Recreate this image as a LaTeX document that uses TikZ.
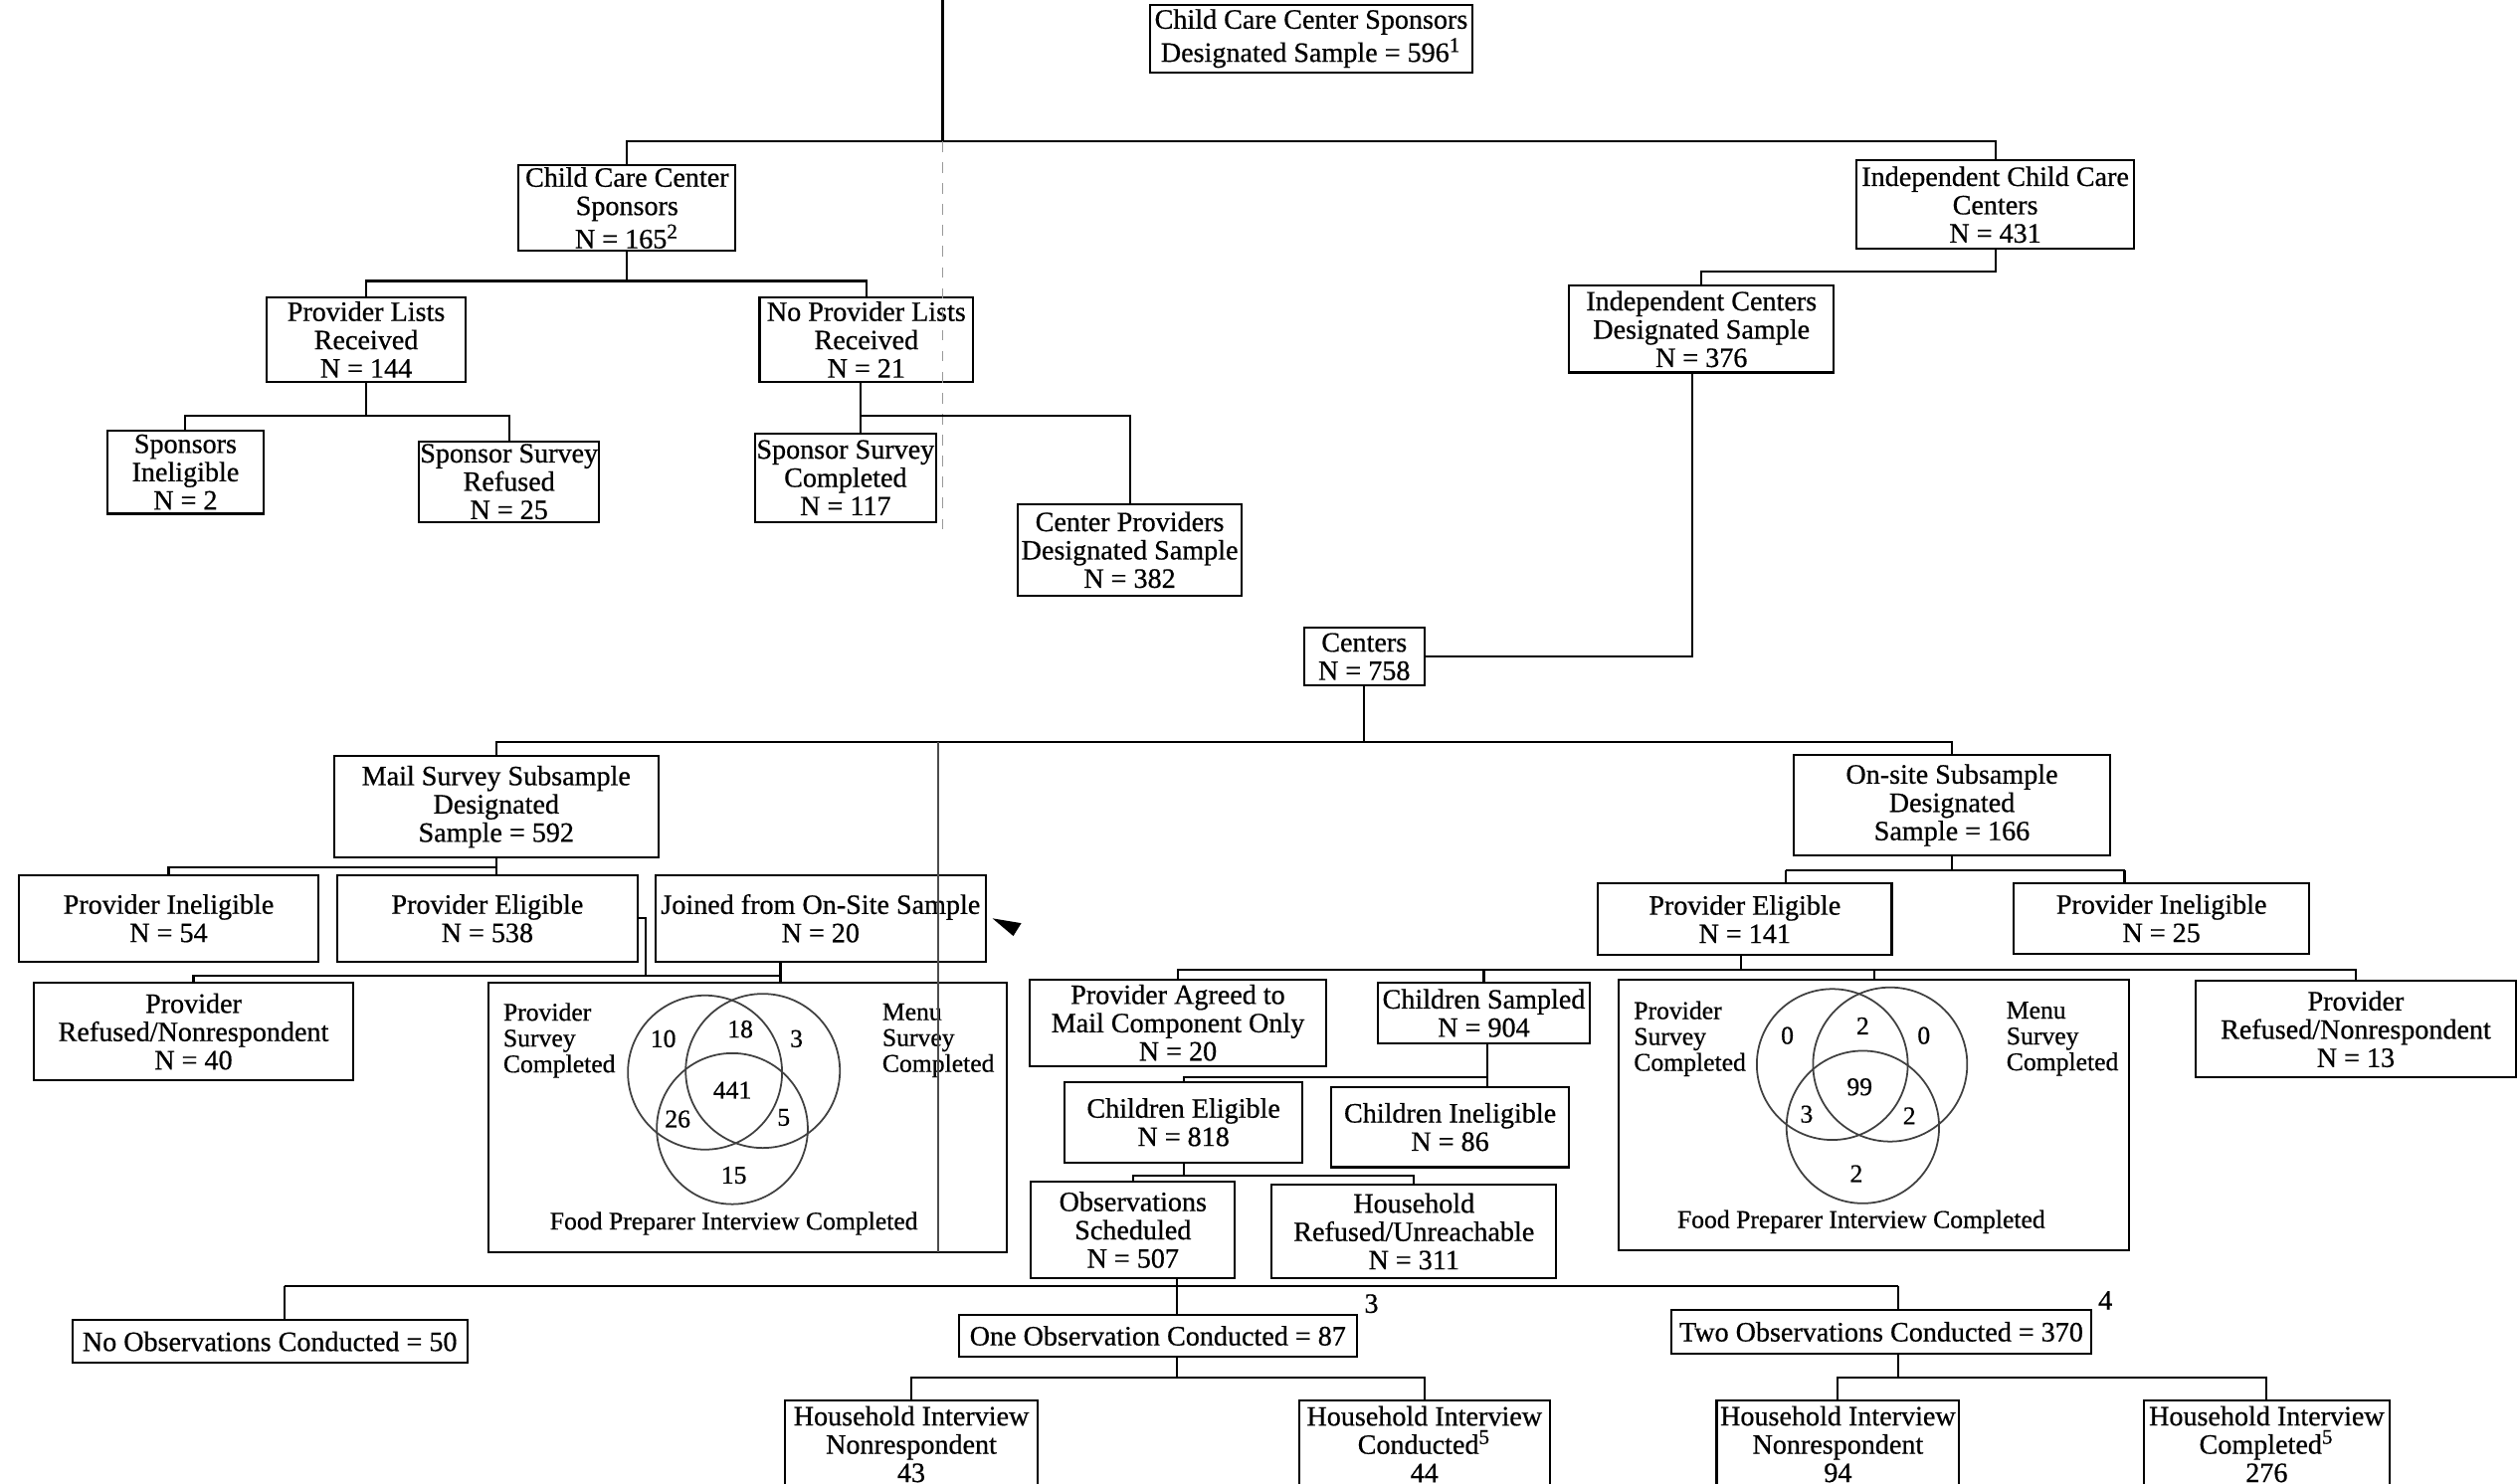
\documentclass[tikz,border=0pt]{standalone}
\usepackage{fontspec}
\setmainfont{Liberation Serif}[FakeBold=0.6]
\newcommand{\fsbox}{\fontsize{8}{8.1}\selectfont}
\newcommand{\fsvenn}{\fontsize{7.3}{7.4}\selectfont}
% box from (x1,y1) to (x2,y2) in reference-pixel units: name, text
\newcommand{\bx}[6]{%
  \pgfmathsetmacro{\bxcx}{(#1+#3)/2}%
  \pgfmathsetmacro{\bxcy}{(#2+#4)/2}%
  \pgfmathsetmacro{\bxw}{(#3-#1)*0.016142}%
  \pgfmathsetmacro{\bxh}{(#4-#2)*0.016142}%
  \node[box, minimum width=\bxw cm, minimum height=\bxh cm] (#5) at (\bxcx,\bxcy) {#6};}
\begin{document}
\begin{tikzpicture}[x=0.016142cm, y=-0.016142cm,
  box/.style={draw, line width=0.6pt, inner sep=0pt, align=center, font=\fsbox},
  conn/.style={line width=0.6pt},
  faint/.style={line width=0.4pt, black!40, dashed},
  vtext/.style={font=\fsvenn, align=left, anchor=west, inner sep=0pt},
  vnum/.style={font=\fsvenn, inner sep=0pt},
  circ/.style={line width=0.5pt, black!75}]
\useasboundingbox (0,0) rectangle (1568,924);

% ---------- boxes ----------
\bx{716}{3}{917}{45}{top}{Child Care Center Sponsors\\Designated Sample = 596\textsuperscript{1}}
\bx{323}{103}{458}{156}{ccs}{Child Care Center\\Sponsors\\N = 165\textsuperscript{2}}
\bx{1156}{100}{1329}{155}{icc}{Independent Child Care\\Centers\\N = 431}
\bx{166}{185}{290}{238}{pl}{Provider Lists\\Received\\N = 144}
\bx{473}{185}{606}{238}{npl}{No Provider Lists\\Received\\N = 21}
\bx{977}{178}{1142}{232}{ic376}{Independent Centers\\Designated Sample\\N = 376}
\bx{67}{268}{164}{320}{si}{Sponsors\\Ineligible\\N = 2}
\bx{261}{275}{373}{325}{sr}{Sponsor Survey\\Refused\\N = 25}
\bx{470}{270}{583}{325}{sc}{Sponsor Survey\\Completed\\N = 117}
\bx{634}{314}{773}{371}{cp}{Center Providers\\Designated Sample\\N = 382}
\bx{812}{391}{887}{427}{ctr}{Centers\\N = 758}
\bx{208}{471}{410}{534}{mail}{Mail Survey Subsample\\Designated\\Sample = 592}
\bx{1117}{470}{1314}{533}{onsite}{On-site Subsample\\Designated\\Sample = 166}
\bx{12}{545}{198}{599}{pi54}{Provider Ineligible\\N = 54}
\bx{210}{545}{397}{599}{pe538}{Provider Eligible\\N = 538}
\bx{408}{545}{614}{599}{join}{Joined from On-Site Sample\\N = 20}
\bx{995}{550}{1178}{595}{pe141}{Provider Eligible\\N = 141}
\bx{1254}{550}{1438}{594}{pi25}{Provider Ineligible\\N = 25}
\bx{21}{612}{220}{673}{prl}{Provider\\Refused/Nonrespondent\\N = 40}
\bx{304}{612}{627}{780}{vennL}{}
\bx{641}{610}{826}{664}{pa}{Provider Agreed to\\Mail Component Only\\N = 20}
\bx{858}{612}{990}{650}{cs}{Children Sampled\\N = 904}
\bx{1008}{610}{1326}{779}{vennR}{}
\bx{1367}{611}{1567}{671}{prr}{Provider\\Refused/Nonrespondent\\N = 13}
\bx{663}{674}{811}{724}{ce}{Children Eligible\\N = 818}
\bx{829}{677}{977}{727}{cin}{Children Ineligible\\N = 86}
\bx{642}{736}{769}{796}{os}{Observations\\Scheduled\\N = 507}
\bx{792}{738}{969}{796}{hr}{Household\\Refused/Unreachable\\N = 311}
\bx{45}{822}{291}{849}{no}{No Observations Conducted = 50}
\bx{597}{819}{845}{845}{one}{One Observation Conducted = 87}
\bx{1041}{816}{1302}{843}{two}{Two Observations Conducted = 370}
\bx{489}{872}{646}{927}{h43}{Household Interview\\Nonrespondent\\43}
\bx{809}{872}{965}{927}{h44}{Household Interview\\Conducted\textsuperscript{5}\\44}
\bx{1069}{872}{1220}{927}{h94}{Household Interview\\Nonrespondent\\94}
\bx{1335}{872}{1488}{927}{h276}{Household Interview\\Completed\textsuperscript{5}\\276}

\node[inner sep=0pt, font=\fsbox] (fn3) at (854,812) {3};
\node[inner sep=0pt, font=\fsbox] (fn4) at (1311,810) {4};

% ---------- Venn diagram, mail survey ----------
\draw[circ] (439,668) circle [radius=0.775cm];
\draw[circ] (475,667) circle [radius=0.775cm];
\draw[circ] (456,703) circle [radius=0.759cm];
\node[vtext] (lps) at (313,648) {Provider\\Survey\\Completed};
\node[vtext] (lms) at (549,648) {Menu\\Survey\\Completed};
\node[vnum] (l10) at (413,647) {10};
\node[vnum] (l18) at (461,641) {18};
\node[vnum] (l3) at (496,647) {3};
\node[vnum] (l441) at (456,679) {441};
\node[vnum] (l26) at (422,697) {26};
\node[vnum] (l5) at (488,696) {5};
\node[vnum] (l15) at (457,732) {15};
\node[vnum] (lfp) at (457,762) {Food Preparer Interview Completed};

% ---------- Venn diagram, on-site ----------
\draw[circ] (1141,663) circle [radius=0.759cm];
\draw[circ] (1177,663) circle [radius=0.775cm];
\draw[circ] (1160,702) circle [radius=0.767cm];
\node[vtext] (rps) at (1017,647) {Provider\\Survey\\Completed};
\node[vtext] (rms) at (1249,647) {Menu\\Survey\\Completed};
\node[vnum] (r0a) at (1113,645) {0};
\node[vnum] (r2a) at (1160,639) {2};
\node[vnum] (r0b) at (1198,645) {0};
\node[vnum] (r99) at (1158,677) {99};
\node[vnum] (r3) at (1125,694) {3};
\node[vnum] (r2b) at (1189,695) {2};
\node[vnum] (r2c) at (1156,731) {2};
\node[vnum] (rfp) at (1159,761) {Food Preparer Interview Completed};

% ---------- connectors ----------
\coordinate (t0) at (587,0);
\coordinate (j0) at (587,88);
\coordinate (t1) at (587,330);
\draw[conn] (t0) -- (j0);
\draw[conn] (ccs.north) |- (j0) -| (icc.north);
\draw[faint] (j0) -- (t1);

\coordinate (j1) at (390,175);
\draw[conn] (ccs.south) -- (ccs.south |- j1);
\draw[conn] (pl.north) |- (j1) -| (npl.north);

\coordinate (j2) at (228,259);
\draw[conn] (pl.south) -- (pl.south |- j2);
\draw[conn] (si.north) |- (j2) -| (sr.north);

\coordinate (j3) at (536,259);
\draw[conn] (npl.south -| j3) -- (sc.north -| j3);
\draw[conn] (j3) -| (cp.north);

\coordinate (j4) at (1241,169);
\draw[conn] (icc.south) -- (icc.south |- j4) -| (ic376.north);

\coordinate (j5) at (1054,409);
\draw[conn] (ic376.south -| j5) -- (j5) -- (ctr.east);

\coordinate (j6) at (849,462);
\coordinate (j6b) at (584,462);
\coordinate (t2) at (584,780);
\draw[conn] (ctr.south) -- (ctr.south |- j6);
\draw[conn] (mail.north) |- (j6) -| (onsite.north);
\draw[conn, black!70] (j6b) -- (t2);

\coordinate (j7) at (309,540);
\draw[conn] (mail.south) -- (pe538.north -| mail.south);
\draw[conn] (j7) -| (pi54.north);

\coordinate (j8) at (402,608);
\coordinate (j9) at (486,608);
\draw[conn] (pe538.east) -| (j8);
\draw[conn] (prl.north) |- (j8) -- (j9);
\draw[conn] (join.south -| j9) -- (vennL.north -| j9);
\fill (618,572) -- (636,575) -- (631,583) -- cycle;

\coordinate (ja) at (1112,542);
\coordinate (jb) at (1323,542);
\draw[conn] (onsite.south) -- (onsite.south |- ja);
\draw[conn] (ja) -- (jb);
\draw[conn] (ja) -- (ja |- pe141.north);
\draw[conn] (jb) -- (jb |- pi25.north);

\coordinate (jc) at (1084,604);
\draw[conn] (pe141.south -| jc) -- (jc);
\draw[conn] (pa.north) |- (jc) -| (prr.north);
\draw[conn] (cs.north) -- (cs.north |- jc);
\draw[conn] (vennR.north) -- (vennR.north |- jc);

\coordinate (jd) at (926,671);
\draw[conn] (cs.south -| jd) -- (cin.north -| jd);
\draw[conn] (jd) -| (ce.north);

\coordinate (je) at (737,732);
\draw[conn] (ce.south) -- (ce.south |- je);
\draw[conn] (os.north) |- (je) -| (hr.north);

\coordinate (jf) at (733,801);
\coordinate (jg) at (177,801);
\coordinate (jh) at (1182,801);
\draw[conn] (os.south -| jf) -- (one.north -| jf);
\draw[conn] (jg) -- (jh);
\draw[conn] (jg) -- (jg |- no.north);
\draw[conn] (jh) -- (jh |- two.north);

\coordinate (ji) at (733,858);
\draw[conn] (one.south -| ji) -- (ji);
\draw[conn] (h43.north) |- (ji) -| (h44.north);

\coordinate (jj) at (1182,858);
\draw[conn] (two.south -| jj) -- (jj);
\draw[conn] (h94.north) |- (jj) -| (h276.north);
\end{tikzpicture}
\end{document}
